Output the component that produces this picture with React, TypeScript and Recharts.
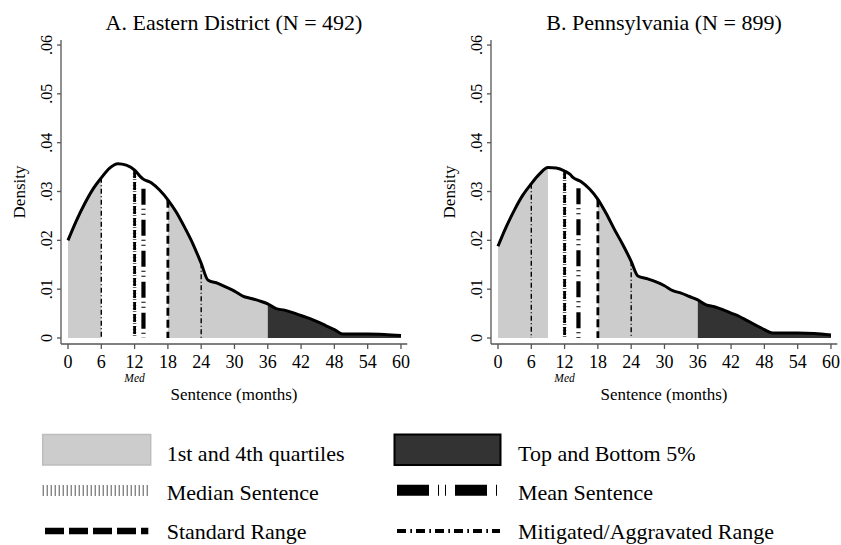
import React from 'react';
import { ComposedChart, Area, Line, XAxis, YAxis, ReferenceLine } from 'recharts';

const months = [0, 1.5, 3, 4.5, 6, 7.5, 9, 10.5, 12, 13, 13.5, 15, 16.5, 18, 19.5, 21, 22.5, 24, 25.2, 27, 28.5, 30, 31.5, 33, 34.5, 36, 37.5, 39, 40.5, 42, 43.5, 45, 46.5, 48, 49.5, 51, 54, 57, 60];

const densityA = [0.0200, 0.0240, 0.0275, 0.0305, 0.0328, 0.0348, 0.0357, 0.0354, 0.0344, 0.0331, 0.0326, 0.0318, 0.0303, 0.0283, 0.0258, 0.0227, 0.0193, 0.0153, 0.0119, 0.0112, 0.0104, 0.0096, 0.0086, 0.0081, 0.0076, 0.0070, 0.0060, 0.0057, 0.0052, 0.0046, 0.0040, 0.0033, 0.0025, 0.0017, 0.0008, 0.0008, 0.0008, 0.0007, 0.0005];

const densityB = [0.0188, 0.0228, 0.0263, 0.0293, 0.0316, 0.0336, 0.0349, 0.0348, 0.0342, 0.0335, 0.0329, 0.0320, 0.0305, 0.0284, 0.0255, 0.0222, 0.0191, 0.0157, 0.0127, 0.0121, 0.0115, 0.0107, 0.0097, 0.0092, 0.0085, 0.0078, 0.0068, 0.0064, 0.0058, 0.0051, 0.0044, 0.0035, 0.0026, 0.0017, 0.0010, 0.0010, 0.0010, 0.0009, 0.0006];

const quartilesA = [[0, 6], [18, 36]];
const quartilesB = [[0, 9], [18, 36]];
const tailsA = [[36, 60]];
const tailsB = [[36, 60]];

const mitigatedRange = [6, 24];
const standardRange = [12, 18];
const medianSentence = 12;
const meanA = 13.6;
const meanB = 14.5;
const meanTopA = 0.0312;
const meanTopB = 0.0313;

const xTicks = [0, 6, 12, 18, 24, 30, 36, 42, 48, 54, 60];
const yTicks = [0, 0.01, 0.02, 0.03, 0.04, 0.05, 0.06];
const yTickLabels = ['0', '.01', '.02', '.03', '.04', '.05', '.06'];

const titleA = 'A. Eastern District (N = 492)';
const titleB = 'B. Pennsylvania (N = 899)';

const FONT = '"Liberation Serif", "Times New Roman", serif';
const AXIS = '#555';

const inRanges = (x: number, ranges: number[][]) => ranges.some(([a, b]) => x >= a && x <= b);

const buildRows = (density: number[], quartiles: number[][], tails: number[][]) =>
  months.map((m, i) => ({
    x: m,
    d: density[i],
    q: inRanges(m, quartiles) ? density[i] : null,
    t: inRanges(m, tails) ? density[i] : null,
  }));

const densityAt = (density: number[], m: number) => density[months.indexOf(m)];

const XTick = (props: any) => {
  const { x, y, payload } = props;
  return (
    <g>
      <text x={x} y={y + 18.5} textAnchor="middle" fontSize={18} fontFamily={FONT} fill="#000">
        {payload.value}
      </text>
      {payload.value === medianSentence && (
        <text x={x} y={y + 33} textAnchor="middle" fontSize={11.5} fontStyle="italic" fontFamily={FONT} fill="#000">
          Med
        </text>
      )}
    </g>
  );
};

const YTick = (props: any) => {
  const { x, y, payload } = props;
  const idx = yTicks.findIndex((v) => Math.abs(v - payload.value) < 1e-9);
  return (
    <text transform={`translate(${x - 5},${y}) rotate(-90)`} textAnchor="middle" fontSize={16} fontFamily={FONT} fill="#000">
      {idx >= 0 ? yTickLabels[idx] : ''}
    </text>
  );
};

type PanelProps = {
  density: number[];
  quartiles: number[][];
  tails: number[][];
  mean: number;
  meanTop: number;
};

const Panel = ({ density, quartiles, tails, mean, meanTop }: PanelProps) => {
  const rows = buildRows(density, quartiles, tails);
  return (
    <ComposedChart width={411} height={420} data={rows} margin={{ top: 40, right: 3.7, bottom: 36, left: 21 }}>
      <XAxis
        dataKey="x"
        type="number"
        domain={[-1.26, 61.14]}
        allowDataOverflow
        ticks={xTicks}
        interval={0}
        height={40}
        tickSize={5}
        tickMargin={0}
        axisLine={{ stroke: AXIS, strokeWidth: 1.3 }}
        tickLine={{ stroke: AXIS, strokeWidth: 1.3 }}
        tick={<XTick />}
      />
      <YAxis
        type="number"
        domain={[-0.00123, 0.06103]}
        allowDataOverflow
        ticks={yTicks}
        interval={0}
        width={40}
        tickSize={4}
        tickMargin={0}
        axisLine={{ stroke: AXIS, strokeWidth: 1.3 }}
        tickLine={{ stroke: AXIS, strokeWidth: 1.3 }}
        tick={<YTick />}
      />
      <Area dataKey="q" type="monotone" fill="#cccccc" fillOpacity={1} stroke="none" baseValue={0} connectNulls={false} isAnimationActive={false} />
      <Area dataKey="t" type="monotone" fill="#333333" fillOpacity={1} stroke="none" baseValue={0} connectNulls={false} isAnimationActive={false} />
      {mitigatedRange.map((m) => (
        <ReferenceLine key={'mit' + m} segment={[{ x: m, y: densityAt(density, m) }, { x: m, y: 0 }]} stroke="#000" strokeWidth={1.4} strokeDasharray="5 2.5 1 2.5" />
      ))}
      <ReferenceLine segment={[{ x: medianSentence, y: densityAt(density, medianSentence) }, { x: medianSentence, y: 0 }]} stroke="#666" strokeWidth={3.5} strokeDasharray="1 2" />
      {standardRange.map((m) => (
        <ReferenceLine key={'std' + m} segment={[{ x: m, y: densityAt(density, m) }, { x: m, y: 0 }]} stroke="#000" strokeWidth={2.8} strokeDasharray="8 4" />
      ))}
      <ReferenceLine segment={[{ x: mean, y: meanTop }, { x: mean, y: 0 }]} stroke="#000" strokeWidth={4.2} strokeDasharray="0 3 16 4 1 4 1 2" />
      <Line dataKey="d" type="monotone" stroke="#000" strokeWidth={3} dot={false} activeDot={false} isAnimationActive={false} />
    </ComposedChart>
  );
};

const Overlay = () => (
  <svg width={841} height={545} style={{ position: 'absolute', left: 0, top: 0 }} fontFamily={FONT}>
    <text x={234} y={30} textAnchor="middle" fontSize={22}>{titleA}</text>
    <text x={664} y={30} textAnchor="middle" fontSize={22}>{titleB}</text>
    <text transform="translate(25,192) rotate(-90)" textAnchor="middle" fontSize={17}>Density</text>
    <text transform="translate(455,192) rotate(-90)" textAnchor="middle" fontSize={17}>Density</text>
    <text x={234} y={399.5} textAnchor="middle" fontSize={17}>Sentence (months)</text>
    <text x={664} y={399.5} textAnchor="middle" fontSize={17}>Sentence (months)</text>

    <rect x={42.7} y={434.5} width={108} height={30.5} fill="#cccccc" stroke="#bdbdbd" strokeWidth={1.5} />
    <text x={166.7} y={461} fontSize={22}>1st and 4th quartiles</text>
    <rect x={394.5} y={434.5} width={106} height={30.5} fill="#333333" stroke="#000" strokeWidth={2} />
    <text x={518} y={461} fontSize={22}>Top and Bottom 5%</text>

    <line x1={42.7} x2={150.7} y1={490.5} y2={490.5} stroke="#555" strokeWidth={11} strokeDasharray="1 3" />
    <text x={166.7} y={500} fontSize={22}>Median Sentence</text>
    <line x1={397} x2={500} y1={490.3} y2={490.3} stroke="#000" strokeWidth={11} strokeDasharray="32 9 1 6 1 9" />
    <text x={518} y={500} fontSize={22}>Mean Sentence</text>

    <line x1={45} x2={148.3} y1={531} y2={531} stroke="#000" strokeWidth={6.6} strokeDasharray="19 5" />
    <text x={166.7} y={539} fontSize={22}>Standard Range</text>
    <line x1={397} x2={500} y1={531} y2={531} stroke="#000" strokeWidth={4} strokeDasharray="9 4.3 1.7 4" />
    <text x={518} y={539} fontSize={22}>Mitigated/Aggravated Range</text>
  </svg>
);

export default function App() {
  return (
    <div style={{ position: 'absolute', left: 0, top: 0, width: 841, height: 545, overflow: 'hidden', background: '#fff' }}>
      <Overlay />
      <div style={{ position: 'absolute', left: 0, top: 0 }}>
        <Panel density={densityA} quartiles={quartilesA} tails={tailsA} mean={meanA} meanTop={meanTopA} />
      </div>
      <div style={{ position: 'absolute', left: 430, top: 0 }}>
        <Panel density={densityB} quartiles={quartilesB} tails={tailsB} mean={meanB} meanTop={meanTopB} />
      </div>
    </div>
  );
}
